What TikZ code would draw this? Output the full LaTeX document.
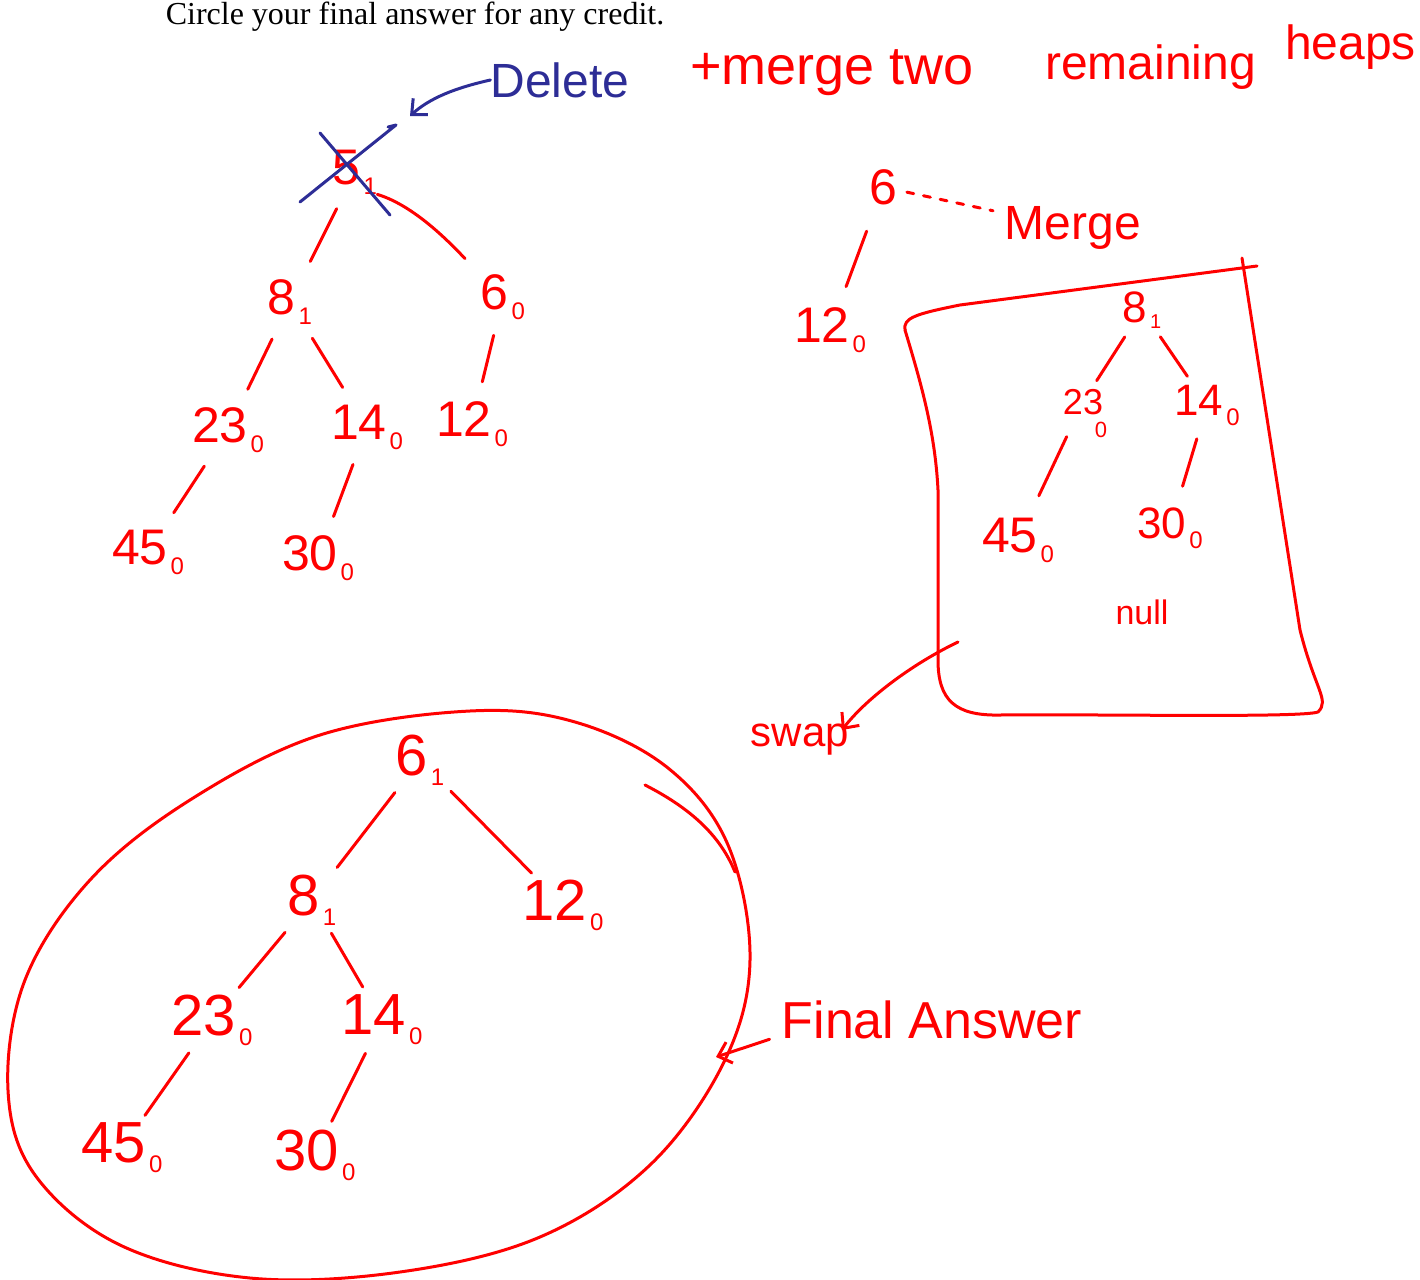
\documentclass[tikz,border=0pt]{standalone}
\usepackage{fontspec}
\setmainfont{Liberation Serif}
\newfontfamily\hand{Liberation Sans}
\usetikzlibrary{arrows.meta}
\definecolor{inkred}{RGB}{255,0,0}
\definecolor{inkblue}{RGB}{45,45,150}
\newcommand\sbx[1]{\kern3pt\raisebox{-10pt}{\fontsize{24}{24}\selectfont #1}}
\newcommand\sbn[1]{\kern3pt\raisebox{-6pt}{\fontsize{20}{20}\selectfont #1}}
\begin{document}
\begin{tikzpicture}[x=1pt,y=-1pt,
  hw/.style={line width=3pt, draw=inkred, line cap=round, line join=round},
  hb/.style={line width=3pt, draw=inkblue, line cap=round, line join=round},
  edge/.style={hw, shorten <=16pt, shorten >=20pt},
  edgeb/.style={hw, shorten <=9pt, shorten >=9pt},
  keyA/.style={text=inkred, inner sep=0pt, font=\hand\fontsize{50}{50}\selectfont},
  keyB/.style={text=inkred, inner sep=0pt, font=\hand\fontsize{44}{44}\selectfont},
  keyC/.style={text=inkred, inner sep=0pt, font=\hand\fontsize{58}{58}\selectfont},
  note/.style={text=inkred, inner sep=0pt, font=\hand\fontsize{48}{48}\selectfont},
  barb/.style={-{Straight Barb[length=12pt,width=22pt]}}
]
\useasboundingbox (0,0) rectangle (1420,1279);

% printed header
\node[inner sep=0pt, font=\fontsize{32}{34}\selectfont] (hdr) at (415,17) {Circle your final answer for any credit.};

% header note
\node[note, anchor=base west, font=\hand\fontsize{54}{54}\selectfont] (n1) at (690,85) {+merge two};
\node[note, anchor=base west] (n2) at (1045,80) {remaining};
\node[note, anchor=base west] (n3) at (1285,60) {heaps};

% ---------- tree 1 ----------
\node[keyA] (t5) at (355,172) {5\sbx{1}};
\node[keyA] (t8) at (290,302) {8\sbx{1}};
\node[keyA] (t6) at (503,297) {6\sbx{0}};
\node[keyA] (t23) at (228,430) {23\sbx{0}};
\node[keyA] (t14) at (367,427) {14\sbx{0}};
\node[keyA] (t12) at (472,424) {12\sbx{0}};
\node[keyA] (t45) at (148,552) {45\sbx{0}};
\node[keyA] (t30) at (318,558) {30\sbx{0}};
\draw[edge] (t5) -- (t8);
\draw[hw, shorten >=22pt] (t5.south east) .. controls +(40,12) and +(-25,-25) .. (t6.north west);
\draw[edge] (t8) -- (t23);
\draw[edge] (t8) -- (t14);
\draw[edge] (t6) -- (t12);
\draw[edge] (t23) -- (t45);
\draw[edge] (t14) -- (t30);

% blue delete
\draw[hb] (300,202) -- (396,125) -- (388,127);
\draw[hb] (320,133) -- (390,215);
\node[text=inkblue, inner sep=0pt, font=\hand\fontsize{48}{48}\selectfont] (del) at (560,80) {Delete};
\coordinate (dtip) at (410,116);
\draw[hb, barb] (del.west) .. controls (455,88) and (430,98) .. (dtip);

% ---------- right heap ----------
\node[keyA] (r6) at (883,187) {6};
\node[note] (merge) at (1073,228) {Merge};
\draw[hw, dash pattern=on 7pt off 10pt, shorten <=10pt, shorten >=12pt] (r6) -- (merge);
\node[keyA] (r12) at (830,330) {12\sbx{0}};
\draw[hw, shorten <=28pt, shorten >=22pt] (r6) -- (r12);

% box
\draw[hw] (905,330) .. controls (903,318) and (915,314) .. (960,305)
  -- (1257,266);
\draw[hw] (1242,258) -- (1300,630) .. controls (1315,690) and (1330,700) .. (1318,712)
  .. controls (1300,718) and (1100,714) .. (1000,715)
  .. controls (955,716) and (938,700) .. (938,660)
  -- (938,490) .. controls (935,430) and (920,380) .. (905,330);

\node[keyB] (r8) at (1142,310) {8\sbn{1}};
\node[text=inkred, inner sep=0pt, font=\hand\fontsize{36}{36}\selectfont] (r23) at (1083,402) {23};
\node[text=inkred, inner sep=0pt, font=\hand\fontsize{22}{22}\selectfont] (r23s) at (1101,430) {0};
\node[keyB] (r14) at (1207,405) {14\sbx{0}};
\node[keyA] (r45) at (1018,540) {45\sbx{0}};
\node[keyB] (r30) at (1170,528) {30\sbx{0}};
\node[text=inkred, inner sep=0pt, font=\hand\fontsize{34}{34}\selectfont] (null) at (1142,612) {null};
\draw[hw, shorten <=10pt, shorten >=10pt] (r8) -- (r23);
\draw[hw, shorten <=10pt, shorten >=10pt] (r8) -- (r14);
\draw[hw, shorten <=24pt, shorten >=24pt] (r23) -- (r45);
\draw[hw, shorten <=14pt, shorten >=22pt] (r14) -- (r30);

% swap arrow
\node[text=inkred, inner sep=0pt, font=\hand\fontsize{42}{42}\selectfont] (swap) at (800,740) {swap};
\coordinate (sw0) at (958,642);
\coordinate (sw1) at (842,730);
\draw[hw, barb] (sw0) .. controls (910,665) and (865,700) .. (sw1);

% ---------- final answer ----------
\draw[hw] plot[smooth cycle, tension=0.6] coordinates {
  (470,711) (575,722) (668,768) (728,845) (750,960) (724,1062) (650,1165)
  (540,1237) (400,1272) (250,1278) (120,1245) (35,1175) (8,1090) (25,980)
  (90,880) (190,800) (320,735)};
\draw[hw] (645,785) .. controls (690,808) and (720,835) .. (735,872);

\node[keyC] (b6) at (420,760) {6\sbx{1}};
\node[keyC] (b8) at (312,900) {8\sbx{1}};
\node[keyC] (b12) at (563,905) {12\sbx{0}};
\node[keyC] (b23) at (212,1020) {23\sbx{0}};
\node[keyC] (b14) at (382,1020) {14\sbx{0}};
\node[keyC] (b45) at (122,1148) {45\sbx{0}};
\node[keyC] (b30) at (315,1155) {30\sbx{0}};
\draw[edgeb] (b6) -- (b8);
\draw[edgeb] (b6) -- (b12);
\draw[edgeb] (b8) -- (b23);
\draw[edgeb] (b8) -- (b14);
\draw[edgeb] (b23) -- (b45);
\draw[edgeb] (b14) -- (b30);

\node[note, font=\hand\fontsize{52}{52}\selectfont] (fa) at (932,1020) {Final Answer};
\coordinate (fatip) at (716,1057);
\draw[hw, barb] (fa.south west) ++(-12,0) coordinate (fa0) (fa0) -- (fatip);
\end{tikzpicture}
\end{document}
